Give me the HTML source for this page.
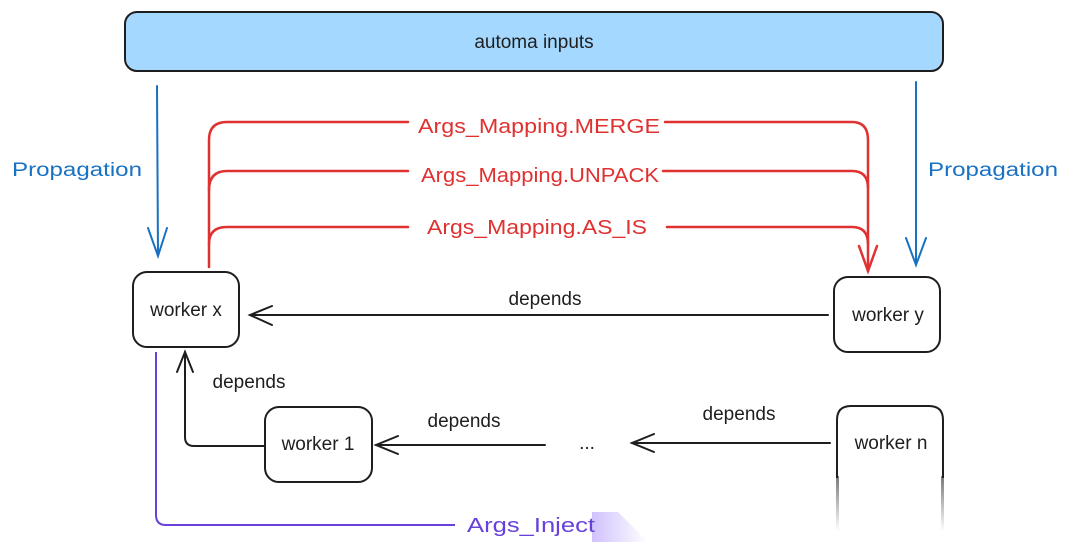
<!DOCTYPE html>
<html><head><meta charset="utf-8"><style>
html,body{margin:0;padding:0;background:#fff;width:1080px;height:559px;overflow:hidden}
svg{display:block}
text{font-family:"Liberation Sans",sans-serif}
</style></head><body>
<svg width="1080" height="559" viewBox="0 0 1080 559" xmlns="http://www.w3.org/2000/svg">
<defs>
<linearGradient id="fade" x1="0" y1="0" x2="0" y2="1">
<stop offset="0" stop-color="#1e1e1e" stop-opacity="0.6"/>
<stop offset="1" stop-color="#1e1e1e" stop-opacity="0"/>
</linearGradient>
<linearGradient id="pf" x1="0" y1="0" x2="1" y2="0">
<stop offset="0" stop-color="#9775fa" stop-opacity="0.45"/>
<stop offset="1" stop-color="#9775fa" stop-opacity="0"/>
</linearGradient>
</defs>
<rect x="125" y="12" width="818" height="59" rx="12" fill="#a5d8ff" stroke="#1e1e1e" stroke-width="2"/>
<text x="534" y="48" font-size="19" text-anchor="middle" fill="#1e1e1e">automa inputs</text>

<g stroke="#1971c2" stroke-width="2" fill="none" stroke-linecap="round">
<path d="M157 86 L158 255"/><path d="M148 228 L158 256 L167 228"/>
<path d="M916 82 L916 264"/><path d="M906 238 L916 265 L926 238"/>
</g>
<g fill="#1971c2" font-size="19">
<text x="12" y="176" textLength="130" lengthAdjust="spacingAndGlyphs">Propagation</text>
<text x="928" y="176" textLength="130" lengthAdjust="spacingAndGlyphs">Propagation</text>
</g>

<g stroke="#e03131" stroke-width="2.5" fill="none" stroke-linecap="round">
<path d="M209 267 L209 140 Q209 122 227 122 L408 122"/>
<path d="M209 190 Q209 171 227 171 L408 171"/>
<path d="M209 244 Q209 227 227 227 L408 227"/>
<path d="M665 122 L852 122 Q868 122 868 140 L868 271"/>
<path d="M663 171 L852 171 Q868 171 868 188"/>
<path d="M667 227 L852 227 Q868 227 868 244"/>
<path d="M859 246 L868 271 L877 246"/>
</g>
<g fill="#e03131" font-size="20">
<text x="418" y="133" textLength="242" lengthAdjust="spacingAndGlyphs">Args_Mapping.MERGE</text>
<text x="421" y="182" textLength="238" lengthAdjust="spacingAndGlyphs">Args_Mapping.UNPACK</text>
<text x="427" y="234" textLength="220" lengthAdjust="spacingAndGlyphs">Args_Mapping.AS_IS</text>
</g>

<g stroke="#1e1e1e" stroke-width="2" fill="#fff">
<rect x="133" y="272" width="106" height="75" rx="14"/>
<rect x="834" y="277" width="106" height="75" rx="14"/>
<rect x="265" y="407" width="107" height="75" rx="14"/>
<path d="M837 478 L837 420 Q837 406 851 406 L929 406 Q943 406 943 420 L943 478" fill="none"/>
</g>
<rect x="836" y="476" width="3" height="55" fill="url(#fade)"/>
<rect x="941" y="476" width="3" height="55" fill="url(#fade)"/>
<g fill="#1e1e1e" font-size="19">
<text x="186" y="316" text-anchor="middle">worker x</text>
<text x="888" y="321" text-anchor="middle">worker y</text>
<text x="318" y="450" text-anchor="middle">worker 1</text>
<text x="891" y="449" text-anchor="middle">worker n</text>
<text x="545" y="305" text-anchor="middle">depends</text>
<text x="249" y="388" text-anchor="middle">depends</text>
<text x="464" y="427" text-anchor="middle">depends</text>
<text x="739" y="420" text-anchor="middle">depends</text>
<text x="587" y="449" text-anchor="middle">...</text>
</g>

<g stroke="#1e1e1e" stroke-width="2" fill="none" stroke-linecap="round">
<path d="M828 315 L250 315"/><path d="M272 306 L250 315 L272 325"/>
<path d="M264 446 L194 446 Q185 446 185 437 L185 352"/><path d="M177 372 L185 352 L193 372"/>
<path d="M545 445 L376 445"/><path d="M398 436 L376 445 L398 454"/>
<path d="M830 443 L632 443"/><path d="M654 434 L632 443 L654 452"/>
</g>

<path d="M156 352 L156 515 Q156 525 166 525 L455 525" stroke="#6741d9" stroke-width="2" fill="none"/>
<path d="M592 512 L618 512 L648 542 L592 542 Z" fill="url(#pf)"/>
<text x="467" y="532" font-size="20" fill="#6741d9" textLength="128" lengthAdjust="spacingAndGlyphs">Args_Inject</text>
</svg>
</body></html>
